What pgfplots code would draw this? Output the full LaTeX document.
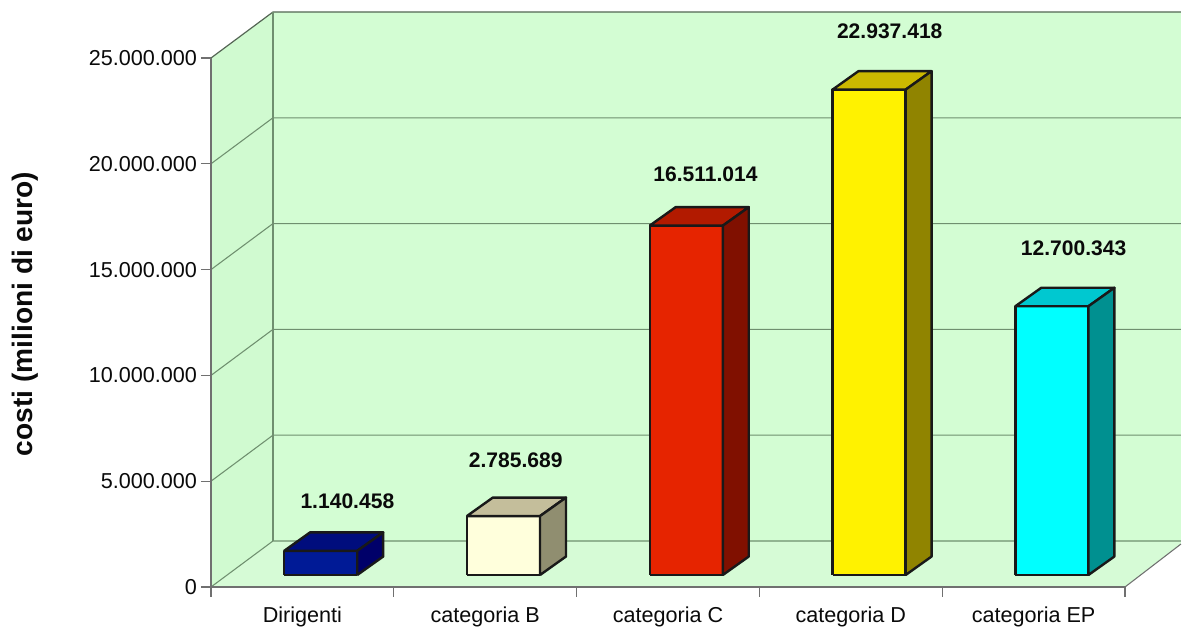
\documentclass[border=0pt]{standalone}
\usepackage{pgfplots}
\pgfplotsset{compat=1.18}
\usepackage{fontspec}
\setmainfont{Liberation Sans}
\definecolor{wallc}{HTML}{D3FDD3}
\definecolor{sidec}{HTML}{D0FAD0}
\definecolor{floorc}{HTML}{D6FBD6}
\definecolor{gridc}{HTML}{6F8F6F}
\definecolor{edgec}{HTML}{556655}
\definecolor{tickc}{HTML}{707070}
\definecolor{txt}{HTML}{0A0A0A}
\pgfplotsset{barface/.style={fill={#1},draw=black!90,line width=1.8pt,line join=round}}
% series values are those shown on the labels; the bars stand on a floor raised by 567000
\begin{document}
\begin{tikzpicture}
\path[use as bounding box] (0,0) rectangle (886.5pt,470.25pt);
\begin{axis}[
  at={(158.25pt,30pt)}, anchor=south west,
  scale only axis, width=685.5pt, height=396.75pt,
  xmin=0, xmax=5, ymin=0, ymax=25000000,
  clip=false, axis on top=true,
  axis y line*=left, axis x line*=bottom,
  axis line style={tickc,line width=0.8pt,-},
  scaled y ticks=false,
  ytick={0,5000000,10000000,15000000,20000000,25000000},
  yticklabels={0,5.000.000,10.000.000,15.000.000,20.000.000,25.000.000},
  xtick={0.5,1.5,2.5,3.5,4.5},
  xticklabels={Dirigenti,categoria B,categoria C,categoria D,categoria EP},
  minor xtick={0,1,2,3,4,5},
  major x tick style={draw=none},
  minor x tick style={tickc,line width=0.8pt},
  y tick style={tickc,line width=0.8pt},
  tickwidth=7.5pt, subtickwidth=7.5pt,
  tick align=outside,
  tick label style={font=\fontsize{16.2}{18}\selectfont,text=txt},
  yticklabel style={xshift=0.5pt},
  xticklabel style={yshift=-4pt},
  every axis y label/.style={at={(axis description cs:-0.2035,0.516)},rotate=90,anchor=center,font=\fontsize{21.1}{24}\selectfont\bfseries,text=txt},
  ylabel={costi (milioni di euro)},
]
% back wall, side wall, floor
\addplot[fill=wallc,draw=none] coordinates {(0.339,2174000)(5.306,2174000)(5.306,27174000)(0.339,27174000)(0.339,2174000)};
\addplot[fill=sidec,draw=none] coordinates {(0,0)(0.339,2174000)(0.339,27174000)(0,25000000)(0,0)};
\addplot[fill=floorc,draw=none] coordinates {(0,0)(5,0)(5.306,2030000)(5.306,2174000)(0.339,2174000)(0,0)};
% grid on the walls
\addplot[gridc,line width=0.8pt] coordinates {(0,0)(0.339,2174000)(5.306,2174000)};
\addplot[gridc,line width=0.8pt] coordinates {(0,5000000)(0.339,7174000)(5.306,7174000)};
\addplot[gridc,line width=0.8pt] coordinates {(0,10000000)(0.339,12174000)(5.306,12174000)};
\addplot[gridc,line width=0.8pt] coordinates {(0,15000000)(0.339,17174000)(5.306,17174000)};
\addplot[gridc,line width=0.8pt] coordinates {(0,20000000)(0.339,22174000)(5.306,22174000)};
\addplot[edgec,line width=0.9pt] coordinates {(0,25000000)(0.339,27174000)(5.306,27174000)};
\addplot[gridc,line width=0.8pt] coordinates {(0.339,2174000)(0.339,27174000)};
\addplot[gridc,line width=0.8pt] coordinates {(0,0)(0,25000000)};
\addplot[tickc,line width=0.8pt] coordinates {(0,0)(5,0)(5.306,2030000)};
% Dirigenti 1140458
\addplot[barface={rgb,255:red,0;green,26;blue,150}] coordinates {(0.4,567000)(0.8,567000)(0.8,1707458)(0.4,1707458)(0.4,567000)};
\addplot[barface={rgb,255:red,0;green,13;blue,125}] coordinates {(0.4,1707458)(0.8,1707458)(0.942,2581458)(0.542,2581458)(0.4,1707458)};
\addplot[barface={rgb,255:red,0;green,0;blue,105}] coordinates {(0.8,567000)(0.942,1441000)(0.942,2581458)(0.8,1707458)(0.8,567000)};
% categoria B 2785689
\addplot[barface={rgb,255:red,255;green,255;blue,220}] coordinates {(1.4,567000)(1.8,567000)(1.8,3352689)(1.4,3352689)(1.4,567000)};
\addplot[barface={rgb,255:red,196;green,190;blue,155}] coordinates {(1.4,3352689)(1.8,3352689)(1.942,4226689)(1.542,4226689)(1.4,3352689)};
\addplot[barface={rgb,255:red,144;green,142;blue,112}] coordinates {(1.8,567000)(1.942,1441000)(1.942,4226689)(1.8,3352689)(1.8,567000)};
% categoria C 16511014
\addplot[barface={rgb,255:red,230;green,36;blue,0}] coordinates {(2.4,567000)(2.8,567000)(2.8,17078014)(2.4,17078014)(2.4,567000)};
\addplot[barface={rgb,255:red,178;green,26;blue,0}] coordinates {(2.4,17078014)(2.8,17078014)(2.942,17952014)(2.542,17952014)(2.4,17078014)};
\addplot[barface={rgb,255:red,128;green,16;blue,0}] coordinates {(2.8,567000)(2.942,1441000)(2.942,17952014)(2.8,17078014)(2.8,567000)};
% categoria D 22937418
\addplot[barface={rgb,255:red,255;green,242;blue,0}] coordinates {(3.4,567000)(3.8,567000)(3.8,23504418)(3.4,23504418)(3.4,567000)};
\addplot[barface={rgb,255:red,204;green,184;blue,0}] coordinates {(3.4,23504418)(3.8,23504418)(3.942,24378418)(3.542,24378418)(3.4,23504418)};
\addplot[barface={rgb,255:red,144;green,132;blue,0}] coordinates {(3.8,567000)(3.942,1441000)(3.942,24378418)(3.8,23504418)(3.8,567000)};
% categoria EP 12700343
\addplot[barface={rgb,255:red,0;green,255;blue,255}] coordinates {(4.4,567000)(4.8,567000)(4.8,13267343)(4.4,13267343)(4.4,567000)};
\addplot[barface={rgb,255:red,0;green,200;blue,208}] coordinates {(4.4,13267343)(4.8,13267343)(4.942,14141343)(4.542,14141343)(4.4,13267343)};
\addplot[barface={rgb,255:red,0;green,144;blue,144}] coordinates {(4.8,567000)(4.942,1441000)(4.942,14141343)(4.8,13267343)(4.8,567000)};
% value labels
\node[font=\fontsize{15.8}{18}\selectfont\bfseries,text=txt] at (axis cs:0.746,4064000) {1.140.458};
\node[font=\fontsize{15.8}{18}\selectfont\bfseries,text=txt] at (axis cs:1.667,6000000) {2.785.689};
\node[font=\fontsize{15.8}{18}\selectfont\bfseries,text=txt] at (axis cs:2.705,19520000) {16.511.014};
\node[font=\fontsize{15.8}{18}\selectfont\bfseries,text=txt] at (axis cs:3.713,26280000) {22.937.418};
\node[font=\fontsize{15.8}{18}\selectfont\bfseries,text=txt] at (axis cs:4.719,16020000) {12.700.343};
\end{axis}
\end{tikzpicture}
\end{document}
